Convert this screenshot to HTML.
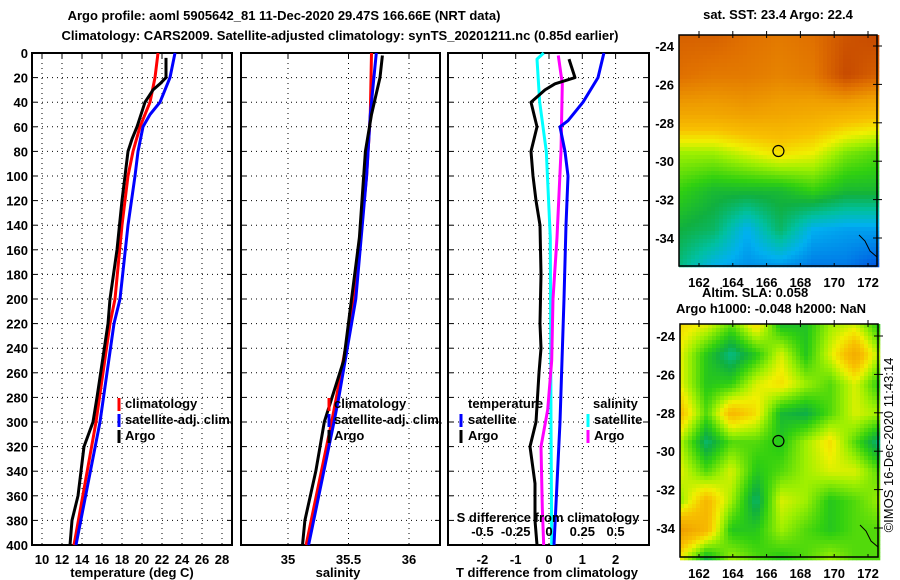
<!DOCTYPE html>
<html><head><meta charset="utf-8">
<style>
body{margin:0;background:#fff;}
svg{display:block;font-family:"Liberation Sans",sans-serif;font-weight:bold;}
text{font-size:13px;fill:#000;}
</style></head>
<body>
<svg id="c" width="900" height="580" viewBox="0 0 900 580" xmlns="http://www.w3.org/2000/svg">
<text x="284" y="20" text-anchor="middle">Argo profile: aoml 5905642_81 11-Dec-2020 29.47S 166.66E (NRT data)</text>
<text x="340" y="40" text-anchor="middle">Climatology: CARS2009. Satellite-adjusted climatology: synTS_20201211.nc (0.85d earlier)</text>
<g id="g"></g>
</svg>
<script>
// ---- data (depth in m) ----
const tClimDepth=[0,20,40,60,80,100,140,200,220,300,350,400];
const tClim=[21.6,21.3,20.8,19.8,19.1,18.6,18.0,17.3,16.8,15.4,14.3,13.2];
const tSatDepth=[0,20,40,50,60,80,100,140,200,220,300,350,400];
const tSat=[23.3,22.8,21.8,20.8,20.1,19.6,19.3,18.6,17.8,17.2,15.8,14.6,13.4];
const tArgoDepth=[4,20,25,30,40,60,70,80,100,120,160,200,220,280,300,320,360,380,400];
const tArgo=[22.4,22.4,21.8,21.1,20.3,19.5,19.0,18.6,18.3,18.0,17.5,16.8,16.6,15.5,15.1,14.2,13.6,13.0,12.8];
const sClimDepth=[0,50,100,200,280,300,400];
const sClim=[35.69,35.68,35.65,35.55,35.40,35.36,35.15];
const sSatDepth=[0,50,100,200,280,300,400];
const sSat=[35.73,35.68,35.65,35.56,35.42,35.38,35.17];
const sArgoDepth=[2,20,50,80,150,250,300,340,380,400];
const sArgo=[35.78,35.76,35.69,35.64,35.59,35.46,35.30,35.23,35.14,35.12];
const dTArgoDepth=[5,20,25,30,40,60,70,80,100,120,140,180,220,240,260,300,320,350,380,400];
const dTArgo=[0.6,0.78,0.18,-0.12,-0.54,-0.36,-0.45,-0.54,-0.48,-0.39,-0.27,-0.24,-0.27,-0.24,-0.3,-0.39,-0.57,-0.42,-0.42,-0.36];
const dTSatDepth=[0,20,40,55,60,80,100,140,200,300,400];
const dTSat=[1.65,1.47,1.02,0.57,0.33,0.48,0.57,0.51,0.45,0.33,0.15];
const dSSatDepth=[0,5,40,80,150,300,400];
const dSSat=[-0.04,-0.09,-0.07,-0.02,0.01,0.015,0.02];
const dSArgoDepth=[2,25,80,150,200,250,290,320,370,400];
const dSArgo=[0.07,0.1,0.09,0.06,0.03,0.02,-0.01,-0.06,-0.05,-0.04];
const tTicks=[10,12,14,16,18,20,22,24,26,28];
const sTicks=[35,35.5,36];
const dTTicks=[-2,-1,0,1,2];
const dSTicks=[-0.5,-0.25,0,0.25,0.5];
const dSTickLabels=["-0.5","-0.25","0","0.25","0.5"];
const depthTicks=[0,20,40,60,80,100,120,140,160,180,200,220,240,260,280,300,320,340,360,380,400];
const latTicks=[-24,-26,-28,-30,-32,-34];
const lonTicks=[162,164,166,168,170,172];
const sstGrid=[[.85,.85,.82,.8,.82,.88,.9],[.82,.8,.8,.78,.8,.9,.85],[.7,.7,.72,.7,.68,.65,.62],[.45,.45,.5,.55,.52,.42,.38],[.35,.3,.3,.3,.35,.3,.3],[.28,.25,.12,.25,.12,.1,.1],[.22,.12,.08,.08,.05,.05,0]];
const slaGrid=[[.55,.5,.38,.55,.32,.32,.45,.5,.33],[.5,.33,.22,.33,.5,.33,.5,.68,.45],[.5,.33,.35,.5,.55,.45,.38,.5,.33],[.6,.38,.63,.55,.3,.27,.38,.5,.45],[.45,.24,.38,.38,.33,.45,.55,.38,.22],[.5,.38,.5,.33,.38,.45,.5,.5,.38],[.45,.63,.45,.24,.5,.45,.33,.38,.45],[.72,.63,.33,.33,.45,.38,.33,.38,.38],[.5,.27,.45,.38,.33,.38,.45,.38,.38]];

const NS="http://www.w3.org/2000/svg";
const G=document.getElementById('g');
function el(tag,attrs,parent){const e=document.createElementNS(NS,tag);for(const k in attrs)e.setAttribute(k,attrs[k]);(parent||G).appendChild(e);return e;}
const TOP=53,BOT=545;
const yD=d=>TOP+d*(BOT-TOP)/400;
const xT=t=>42+(t-10)*10;
const xS=s=>288+(s-35)*121;
const xDT=v=>549+v*33.3;
const xDS=v=>549+v*133.2;

function panel(x0,x1,name){
  const r=el('rect',{x:x0,y:TOP,width:x1-x0,height:BOT-TOP,fill:'none',stroke:'#000','stroke-width':2});
  
  
  depthTicks.forEach(d=>{if(d>0&&d<400){const l=el('line',{x1:x0,x2:x1,y1:yD(d),y2:yD(d),stroke:'#000','stroke-dasharray':'1 4'});
    
    
    el('line',{x1:x0,x2:x0+5,y1:yD(d),y2:yD(d),stroke:'#000'});el('line',{x1:x1-5,x2:x1,y1:yD(d),y2:yD(d),stroke:'#000'});}});
}
function vgrid(xs,fx,labels,x0,x1,name){
  xs.forEach((v,i)=>{const x=fx(v);
    const l=el('line',{x1:x,x2:x,y1:TOP,y2:BOT,stroke:'#000','stroke-dasharray':'1 4'});
    
    
    el('line',{x1:x,x2:x,y1:TOP,y2:TOP+5,stroke:'#000'});
    if(labels){const t=el('text',{x:x,y:BOT+19,'text-anchor':'middle'});t.textContent=labels[i];
    
    }
  });
}
function series(vals,depths,fx,color,name,w){
  const pts=vals.map((v,i)=>fx(v).toFixed(1)+','+yD(depths[i]).toFixed(1)).join(' ');
  const p=el('polyline',{points:pts,fill:'none',stroke:color,'stroke-width':w||3,'stroke-linejoin':'round'});
  
  
}
function label(x,y,s,name,anchor,size){const t=el('text',{x:x,y:y,'text-anchor':anchor||'start'});if(size)t.style.fontSize=size+'px';t.textContent=s;
  
  return t;}
function legMark(x,y,color,name){const l=el('line',{x1:x,x2:x,y1:y-11,y2:y+2,stroke:color,'stroke-width':3});
  
  }

depthTicks.forEach(d=>{label(28,yD(d)+5,String(d),'depth-tick-label','end');});

// Panel 1 temperature
panel(32,232,'temperature-panel');
vgrid(tTicks,xT,tTicks.map(String),32,232,'temperature');
series(tClim,tClimDepth,xT,'#f00','temp-climatology-line');
series(tSat,tSatDepth,xT,'#00f','temp-satellite-line');
series(tArgo,tArgoDepth,xT,'#000','temp-argo-line');
label(132,577,'temperature (deg C)','temperature-axis-title','middle');
legMark(119,409,'#f00','legend-mark-climatology');label(125,408,'climatology','legend-climatology');
legMark(119,425,'#00f','legend-mark-satellite');label(125,424,'satellite-adj. clim.','legend-satellite');
legMark(119,441,'#000','legend-mark-argo');label(125,440,'Argo','legend-argo');

// Panel 2 salinity
panel(241,440,'salinity-panel');
vgrid(sTicks,xS,['35','35.5','36'],241,440,'salinity');
series(sClim,sClimDepth,xS,'#f00','sal-climatology-line');
series(sSat,sSatDepth,xS,'#00f','sal-satellite-line');
series(sArgo,sArgoDepth,xS,'#000','sal-argo-line');
label(338,577,'salinity','salinity-axis-title','middle');
legMark(329,409,'#f00','legend2-mark-climatology');label(334,408,'climatology','legend2-climatology');
legMark(329,425,'#00f','legend2-mark-satellite');label(334,424,'satellite-adj. clim.','legend2-satellite');
legMark(329,441,'#000','legend2-mark-argo');label(334,440,'Argo','legend2-argo');

// Panel 3 differences
panel(448,649,'difference-panel');
vgrid(dTTicks,xDT,dTTicks.map(String),448,649,'t-difference');
series(dSSat,dSSatDepth,xDS,'#0ff','s-diff-satellite-line');
series(dSArgo,dSArgoDepth,xDS,'#f0f','s-diff-argo-line');
series(dTSat,dTSatDepth,xDT,'#00f','t-diff-satellite-line');
series(dTArgo,dTArgoDepth,xDT,'#000','t-diff-argo-line');
dSTicks.forEach((v,i)=>label(xDS(v),536,dSTickLabels[i],'s-difference-tick-label','middle'));
label(548,522,'S difference from climatology','s-difference-axis-title','middle');
label(547,577,'T difference from climatology','t-difference-axis-title','middle');
label(468,408,'temperature','legend3-temperature-heading');
label(593,408,'salinity','legend3-salinity-heading');
legMark(461,425,'#00f','legend3-mark-t-satellite');label(468,424,'satellite','legend3-t-satellite');
legMark(461,441,'#000','legend3-mark-t-argo');label(468,440,'Argo','legend3-t-argo');
legMark(588,425,'#0ff','legend3-mark-s-satellite');label(594,424,'satellite','legend3-s-satellite');
legMark(588,441,'#f0f','legend3-mark-s-argo');label(594,440,'Argo','legend3-s-argo');

// ---- maps ----
const stops=[[0,[0,80,224]],[.12,[0,176,240]],[.2,[0,192,160]],[.28,[16,176,64]],[.35,[48,208,16]],[.45,[160,240,0]],[.52,[240,240,0]],[.6,[248,192,0]],[.72,[240,160,0]],[.82,[224,112,0]],[.92,[192,64,0]],[1,[168,48,0]]];
function cmap(v){v=Math.max(0,Math.min(1,v));for(let i=1;i<stops.length;i++){if(v<=stops[i][0]){const a=stops[i-1],b=stops[i],f=(v-a[0])/(b[0]-a[0]);return 'rgb('+a[1].map((c,k)=>Math.round(c+(b[1][k]-c)*f)).join(',')+')';}}return 'rgb(168,48,0)';}
function interp(grid,u,v){const R=grid.length-1,C=grid[0].length-1;const y=v*R,x=u*C;const i=Math.min(R-1,Math.floor(y)),j=Math.min(C-1,Math.floor(x));const fy=y-i,fx=x-j;
  return grid[i][j]*(1-fx)*(1-fy)+grid[i][j+1]*fx*(1-fy)+grid[i+1][j]*(1-fx)*fy+grid[i+1][j+1]*fx*fy;}
function map(x0,y0,w,h,lat24y,grid,cell,name){
  const g=el('g',{});
  
  
  for(let y=y0;y<y0+h;y+=cell)for(let x=x0;x<x0+w;x+=cell){
    el('rect',{x:x,y:y,width:cell+0.3,height:cell+0.3,fill:cmap(interp(grid,(x-x0)/w,(y-y0)/h))},g);}
  el('rect',{x:x0,y:y0,width:w,height:h,fill:'none',stroke:'#000','stroke-width':1.5});
  const yL=lat=>lat24y+(-24-lat)*19.2;const xL=lon=>699+(lon-162)*16.9;
  latTicks.forEach(l=>{el('line',{x1:x0+w,x2:x0+w+5,y1:yL(l),y2:yL(l),stroke:'#000'});el('line',{x1:x0+w-4,x2:x0+w,y1:yL(l),y2:yL(l),stroke:'#000'});label(x0-5,yL(l)+5,String(l),name+'-lat-label','end');});
  lonTicks.forEach(l=>{el('line',{x1:xL(l),x2:xL(l),y1:y0-4,y2:y0+3,stroke:'#000'});el('line',{x1:xL(l),x2:xL(l),y1:y0+h-3,y2:y0+h,stroke:'#000'});label(xL(l),y0+h+21,String(l),name+'-lon-label','middle');});
  const c=el('circle',{cx:xL(166.7),cy:yL(-29.47),r:5.5,fill:'none',stroke:'#000','stroke-width':1.2});
  
  
  el('path',{d:`M${x0+w-18} ${yL(-34)-3} l6 6 l5 10 l7 6`,fill:'none',stroke:'#000','stroke-width':1});
}
map(679,35,198,231,46,sstGrid,4,'sst-map');
map(680,324,198,233,336,slaGrid,4,'sla-map');
label(778,19,'sat. SST: 23.4 Argo: 22.4','sst-map-title','middle');
label(702,297,'Altim. SLA: 0.058','sla-value-label','start');
label(771,313,'Argo h1000: -0.048 h2000: NaN','sla-map-title','middle');
const ts=label(893,445,'©IMOS 16-Dec-2020 11:43:14','timestamp-label','middle');
ts.setAttribute('transform','rotate(-90 893 445)');ts.style.fontWeight='normal';
</script>
</body></html>
